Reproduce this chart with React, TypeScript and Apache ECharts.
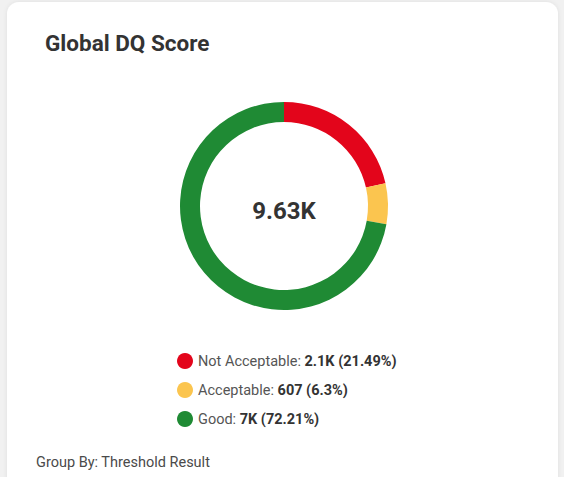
import React, { useEffect, useRef } from "react";
import * as echarts from "echarts";

const categories = ["Not Acceptable", "Acceptable", "Good"];
const values = [2069, 607, 6954];
const shortValues = ["2.1K", "607", "7K"];
const percents = ["21.49%", "6.3%", "72.21%"];
const colors = ["#e3051b", "#fbc54f", "#1f8a34"];
const totalLabel = "9.63K";

export default function App() {
  const ref = useRef<HTMLDivElement>(null);
  useEffect(() => {
    document.body.style.margin = "0";
    const chart = echarts.init(ref.current!, null, { renderer: "svg" });
    chart.setOption({
      animation: false,
      backgroundColor: "#f1f1f1",
      graphic: [
        {
          type: "rect",
          shape: { x: 7, y: 2, width: 551, height: 500, r: 12 },
          style: { fill: "#ffffff", shadowBlur: 4, shadowColor: "rgba(0,0,0,0.08)" },
          z: -10,
        },
        {
          type: "text",
          left: 45,
          top: 31,
          style: { text: "Global DQ Score", font: "bold 22.5px Roboto", fill: "#333333" },
        },
        {
          type: "text",
          left: 36,
          top: 455,
          style: { text: "Group By: Threshold Result", font: "14.5px Roboto", fill: "#4a4a4a" },
        },
        {
          type: "text",
          x: 284,
          y: 211,
          style: {
            text: totalLabel,
            font: "bold 24px Roboto",
            fill: "#333333",
            align: "center",
            verticalAlign: "middle",
          },
        },
      ],
      legend: {
        orient: "vertical",
        left: 172,
        top: 348,
        icon: "circle",
        itemWidth: 16,
        itemHeight: 16,
        itemGap: 13,
        data: categories,
        formatter: (name: string) => {
          const i = categories.indexOf(name);
          return `{n|${name}: }{b|${shortValues[i]} (${percents[i]})}`;
        },
        textStyle: {
          rich: {
            n: { fontFamily: "Roboto", fontSize: 14.5, lineHeight: 16, color: "#555555" },
            b: { fontFamily: "Roboto", fontSize: 14.5, lineHeight: 16, fontWeight: "bold", color: "#333333" },
          },
        },
      },
      series: [
        {
          type: "pie",
          center: [284, 206],
          radius: [84, 104],
          startAngle: 90,
          clockwise: true,
          label: { show: false },
          labelLine: { show: false },
          itemStyle: { borderColor: "#ffffff", borderWidth: 0 },
          data: categories.map((c, i) => ({
            name: c,
            value: values[i],
            itemStyle: { color: colors[i] },
          })),
        },
      ],
    });
    return () => chart.dispose();
  }, []);
  return <div ref={ref} style={{ width: 564, height: 477 }} />;
}
